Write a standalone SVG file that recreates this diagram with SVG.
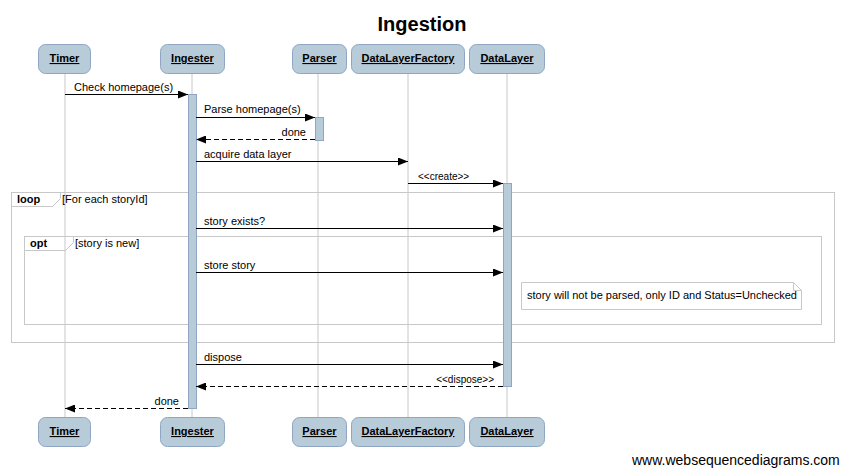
<svg xmlns="http://www.w3.org/2000/svg" width="843" height="468" viewBox="0 0 843 468">
<style>
text{font-family:"Liberation Sans",Arial,sans-serif;fill:#000}
.box{fill:#b8cbd9;stroke:#8ea6c3;stroke-width:1}
.lbl{font-size:11px;font-weight:bold;text-decoration:underline;text-anchor:middle}
.life{stroke:#c8c8c8;stroke-width:1}
.act{fill:#b8cbd9;stroke:#8ea6c3;stroke-width:1}
.msg{stroke:#000;stroke-width:1;fill:none}
.ret{stroke:#000;stroke-width:1;fill:none;stroke-dasharray:5,3}
.m{font-size:11px}
.s{font-size:10px}
.frame{fill:none;stroke:#c8c8c8;stroke-width:1}
</style>
<defs>
<marker id="ah" markerWidth="10" markerHeight="8" refX="10" refY="4" orient="auto" markerUnits="userSpaceOnUse">
<path d="M0,0 L10,4 L0,8 z" fill="#000"/>
</marker>
</defs>
<rect width="843" height="468" fill="#fff"/>
<text x="422" y="31" font-size="20" font-weight="bold" text-anchor="middle">Ingestion</text>

<g id="lifelines">
<line class="life" x1="65" y1="73" x2="65" y2="417"/>
<line class="life" x1="192" y1="73" x2="192" y2="417"/>
<line class="life" x1="318" y1="73" x2="318" y2="417"/>
<line class="life" x1="408" y1="73" x2="408" y2="417"/>
<line class="life" x1="507" y1="73" x2="507" y2="417"/>
</g>

<g id="frames">
<rect class="frame" x="11.5" y="192.5" width="823" height="150"/>
<path class="frame" d="M11.5,206.5 H52.5 L60.5,198.5 V192.5"/>
<text x="17" y="203" font-size="11" font-weight="bold">loop</text>
<text x="62" y="203" font-size="11">[For each storyId]</text>
<rect class="frame" x="24.5" y="236.5" width="797" height="88"/>
<path class="frame" d="M24.5,250.5 H65.5 L73.5,242.5 V236.5"/>
<text x="30" y="247" font-size="11" font-weight="bold">opt</text>
<text x="75" y="247" font-size="11">[story is new]</text>
</g>

<g id="activations">
<rect class="act" x="188.5" y="94.5" width="8" height="314"/>
<rect class="act" x="315.5" y="117.5" width="8" height="23"/>
<rect class="act" x="503.5" y="183.5" width="8" height="203"/>
</g>

<g id="connectors">
<line class="msg" x1="65" y1="94.5" x2="188" y2="94.5" marker-end="url(#ah)"/>
<text class="m" x="74" y="91">Check homepage(s)</text>
<line class="msg" x1="196" y1="117.5" x2="315" y2="117.5" marker-end="url(#ah)"/>
<text class="m" x="204" y="113">Parse homepage(s)</text>
<line class="ret" x1="315" y1="139.5" x2="196" y2="139.5" marker-end="url(#ah)"/>
<text class="m" x="306" y="136" text-anchor="end">done</text>
<line class="msg" x1="196" y1="161.5" x2="408" y2="161.5" marker-end="url(#ah)"/>
<text class="m" x="204" y="158">acquire data layer</text>
<line class="msg" x1="408" y1="183.5" x2="503" y2="183.5" marker-end="url(#ah)"/>
<text class="s" x="418" y="180">&lt;&lt;create&gt;&gt;</text>
<line class="msg" x1="196" y1="228.5" x2="503" y2="228.5" marker-end="url(#ah)"/>
<text class="m" x="204" y="225">story exists?</text>
<line class="msg" x1="196" y1="272.5" x2="503" y2="272.5" marker-end="url(#ah)"/>
<text class="m" x="204" y="269">store story</text>
<line class="msg" x1="196" y1="364.5" x2="503" y2="364.5" marker-end="url(#ah)"/>
<text class="m" x="204" y="361">dispose</text>
<line class="ret" x1="503" y1="386.5" x2="196" y2="386.5" marker-end="url(#ah)"/>
<text class="s" x="494" y="383" text-anchor="end">&lt;&lt;dispose&gt;&gt;</text>
<line class="ret" x1="188" y1="408.5" x2="65" y2="408.5" marker-end="url(#ah)"/>
<text class="m" x="179" y="405" text-anchor="end">done</text>
</g>

<g id="note">
<path d="M521.5,282.5 H793.5 L801.5,290.5 V309.5 H521.5 Z" fill="#fff" stroke="#c8c8c8"/>
<path d="M793.5,282.5 V290.5 H801.5" fill="none" stroke="#c8c8c8"/>
<text x="527" y="299" font-size="11">story will not be parsed, only ID and Status=Unchecked</text>
</g>

<g id="timer">
<rect class="box" x="38.5" y="44.5" width="52" height="29" rx="7"/>
<text class="lbl" x="64.5" y="62">Timer</text>
<rect class="box" x="38.5" y="417.5" width="52" height="29" rx="7"/>
<text class="lbl" x="64.5" y="435">Timer</text>
</g>
<g id="ingester">
<rect class="box" x="160.5" y="44.5" width="64" height="29" rx="7"/>
<text class="lbl" x="192.5" y="62">Ingester</text>
<rect class="box" x="160.5" y="417.5" width="64" height="29" rx="7"/>
<text class="lbl" x="192.5" y="435">Ingester</text>
</g>
<g id="parser">
<rect class="box" x="292.5" y="44.5" width="54" height="29" rx="7"/>
<text class="lbl" x="319.5" y="62">Parser</text>
<rect class="box" x="292.5" y="417.5" width="54" height="29" rx="7"/>
<text class="lbl" x="319.5" y="435">Parser</text>
</g>
<g id="datalayerfactory">
<rect class="box" x="351.5" y="44.5" width="113" height="29" rx="7"/>
<text class="lbl" x="408" y="62">DataLayerFactory</text>
<rect class="box" x="351.5" y="417.5" width="113" height="29" rx="7"/>
<text class="lbl" x="408" y="435">DataLayerFactory</text>
</g>
<g id="datalayer">
<rect class="box" x="469.5" y="44.5" width="75" height="29" rx="7"/>
<text class="lbl" x="507" y="62">DataLayer</text>
<rect class="box" x="469.5" y="417.5" width="75" height="29" rx="7"/>
<text class="lbl" x="507" y="435">DataLayer</text>
</g>

<text x="632" y="465" font-size="14">www.websequencediagrams.com</text>
</svg>
